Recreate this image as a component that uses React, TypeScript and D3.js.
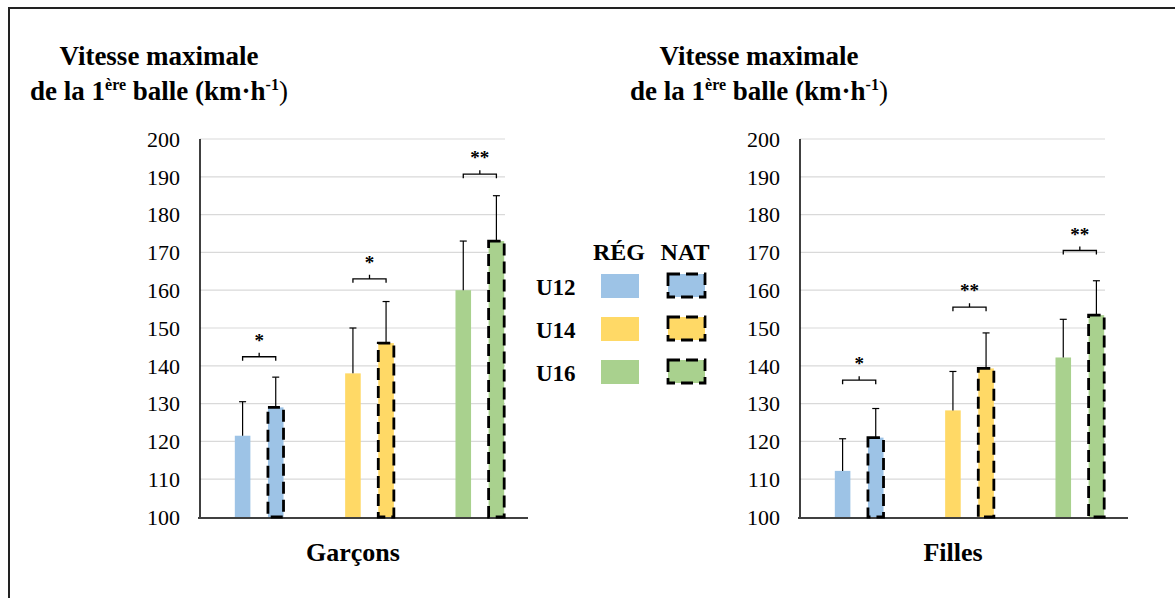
import * as d3 from "d3"

// groupes d'âge et séries
const groups = ["U12", "U14", "U16"]
const series = ["RÉG", "NAT"]

// Garçons
const garconsReg = [121.5, 138, 160]
const garconsNat = [129, 146, 173]
const garconsRegSd = [9, 12, 13]
const garconsNatSd = [8, 11, 12]
const garconsSig = ["*", "*", "**"]
const garconsSigLevel = [142.4, 163, 190.7]

// Filles
const fillesReg = [112.2, 128.2, 142.2]
const fillesNat = [121, 139.3, 153.4]
const fillesRegSd = [8.5, 10.3, 10.1]
const fillesNatSd = [7.7, 9.4, 9.1]
const fillesSig = ["*", "**", "**"]
const fillesSigLevel = [136.2, 155.5, 170.5]

const yTicks = [100, 110, 120, 130, 140, 150, 160, 170, 180, 190, 200]
const colors = ["#9DC3E6", "#FFD966", "#A9D18E"]

const FONT = "'Liberation Serif', 'Times New Roman', serif"

const y = d3.scaleLinear().domain([100, 200]).range([517, 139])

interface PanelProps {
  axisX: number
  label: string
  reg: number[]
  nat: number[]
  regSd: number[]
  natSd: number[]
  sig: string[]
  sigLevel: number[]
}

function Title({ cx }: { cx: number }) {
  return (
    <g fontFamily={FONT} fontWeight="bold" fill="#000" textAnchor="middle">
      <text x={cx} y={65} fontSize={27}>Vitesse maximale</text>
      <text x={cx} y={100} fontSize={27}>
        de la 1<tspan fontSize={16} dy={-10}>ère</tspan>
        <tspan dy={10}> balle (km·h</tspan>
        <tspan fontSize={16} dy={-10}>-1</tspan>
        <tspan dy={10} fontWeight="normal">)</tspan>
      </text>
    </g>
  )
}

function Panel({ axisX, label, reg, nat, regSd, natSd, sig, sigLevel }: PanelProps) {
  const x = d3.scaleBand<string>().domain(groups).range([axisX + 4, axisX + 335])
  const xs = d3.scaleBand<string>().domain(series).range([0, x.bandwidth()]).paddingInner(0.53).paddingOuter(0.93)
  const bw = xs.bandwidth()
  const gridRight = axisX + 305

  return (
    <g>
      {yTicks.map((t) => (
        <g key={t}>
          {t > 100 && <line x1={axisX} x2={gridRight} y1={y(t)} y2={y(t)} stroke="#d9d9d9" strokeWidth={1.2} />}
          <text x={axisX - 20} y={y(t)} dy="0.35em" textAnchor="end" fontFamily={FONT} fontSize={22} fill="#000">{t}</text>
        </g>
      ))}
      {groups.map((g, i) => {
        const vals = [reg[i], nat[i]]
        const sds = [regSd[i], natSd[i]]
        const cReg = x(g)! + xs("RÉG")! + bw / 2
        const cNat = x(g)! + xs("NAT")! + bw / 2
        const by = y(sigLevel[i])
        return (
          <g key={g}>
            {series.map((s, j) => {
              const bx = x(g)! + xs(s)!
              const cx = bx + bw / 2
              const top = y(vals[j])
              const err = y(vals[j] + sds[j])
              return (
                <g key={s}>
                  <rect x={bx} y={top} width={bw} height={y(100) - top} fill={colors[i]}
                    stroke={s === "NAT" ? "#000" : "none"} strokeWidth={2.8} strokeDasharray={s === "NAT" ? "12,6" : undefined} />
                  <line x1={cx} x2={cx} y1={top} y2={err} stroke="#000" strokeWidth={1.2} />
                  <line x1={cx - 3.5} x2={cx + 3.5} y1={err} y2={err} stroke="#000" strokeWidth={1.2} />
                </g>
              )
            })}
            <path d={`M${cReg},${by + 4}V${by}H${cNat}V${by + 4}M${(cReg + cNat) / 2},${by}V${by - 4}`}
              fill="none" stroke="#000" strokeWidth={1.3} />
            <text x={(cReg + cNat) / 2} y={by - 10} textAnchor="middle" fontFamily={FONT} fontWeight="bold" fontSize={19} fill="#000">{sig[i]}</text>
          </g>
        )
      })}
      <line x1={axisX} x2={axisX} y1={y(200)} y2={y(100)} stroke="#000" strokeWidth={1.5} />
      <line x1={axisX - 2} x2={axisX + 328} y1={y(100) + 1} y2={y(100) + 1} stroke="#000" strokeWidth={1.5} />
      <text x={axisX + 153} y={561} textAnchor="middle" fontFamily={FONT} fontWeight="bold" fontSize={26} fill="#000">{label}</text>
    </g>
  )
}

function Legend() {
  const rowY = [274, 317, 360]
  return (
    <g fontFamily={FONT} fontWeight="bold" fill="#000">
      <text x={619} y={260} textAnchor="middle" fontSize={24}>RÉG</text>
      <text x={685} y={260} textAnchor="middle" fontSize={24}>NAT</text>
      {groups.map((g, i) => (
        <g key={g}>
          <text x={536} y={rowY[i] + 21} fontSize={23}>{g}</text>
          <rect x={601} y={rowY[i]} width={38} height={24} fill={colors[i]} />
          <rect x={668} y={rowY[i]} width={37} height={23} fill={colors[i]} stroke="#000" strokeWidth={2.8} strokeDasharray="12,6" />
        </g>
      ))}
    </g>
  )
}

export default function App() {
  return (
    <svg width={1175} height={598} style={{ position: "absolute", left: 0, top: 0, background: "#fff" }}>
      <rect x={0} y={0} width={1175} height={598} fill="#fff" />
      <path d="M1175,8H9V598" fill="none" stroke="#222" strokeWidth={2} />
      <Title cx={159} />
      <Title cx={759} />
      <Panel axisX={200} label="Garçons" reg={garconsReg} nat={garconsNat} regSd={garconsRegSd} natSd={garconsNatSd} sig={garconsSig} sigLevel={garconsSigLevel} />
      <Panel axisX={800} label="Filles" reg={fillesReg} nat={fillesNat} regSd={fillesRegSd} natSd={fillesNatSd} sig={fillesSig} sigLevel={fillesSigLevel} />
      <Legend />
    </svg>
  )
}
